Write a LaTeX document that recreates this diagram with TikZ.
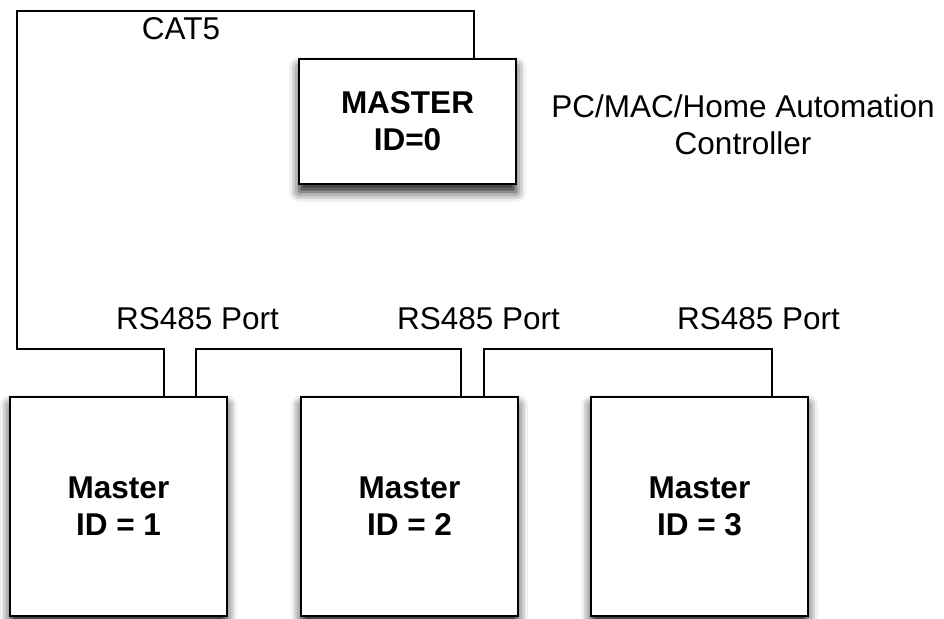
\documentclass[tikz,border=0pt]{standalone}
\usepackage{fontspec}
\setmainfont{Liberation Sans}
\usepackage{tikz}
\usetikzlibrary{shadows.blur}

\tikzset{
  unitbox/.style={draw=black, line width=2.6pt, fill=white, minimum width=217pt,
    align=center, font=\fontsize{31.5}{37}\selectfont\bfseries, inner sep=0pt,
    blur shadow={shadow xshift=0pt, shadow yshift=-8pt, shadow blur radius=10pt, shadow opacity=90}},
  wire/.style={draw=black, line width=1.8pt},
  note/.style={align=center, inner sep=0pt}
}

\begin{document}
\begin{tikzpicture}[x=1pt, y=-1pt, font=\fontsize{31.5}{37}\selectfont]
    \useasboundingbox (0,0) rectangle (944,618);
    % controller box on top
    \node[unitbox, minimum height=125pt] (master) at (407.5,121.5) {MASTER\\ID=0};
    % three slave boxes
    \foreach \i/\x in {1/118.5, 2/409.5, 3/699.5} {
      \node[unitbox, minimum height=219pt] (box\i) at (\x,506.5) {Master\\ID = \i};
    }
    % port points on the box tops
    \coordinate (pm) at ([xshift=66.5pt]master.north);
    \coordinate (p1a) at ([xshift=45.5pt]box1.north);
    \coordinate (p1b) at ([xshift=77.5pt]box1.north);
    \coordinate (p2a) at ([xshift=51.5pt]box2.north);
    \coordinate (p2b) at ([xshift=74.5pt]box2.north);
    \coordinate (p3a) at ([xshift=72.5pt]box3.north);
    \coordinate (corner) at (17,11);
    \coordinate (bus) at (17,349);
    % cabling
    \draw[wire] (pm) |- (corner) -- (bus) -| (p1a);
    \draw[wire] (p1b) -- (p1b |- bus) -| (p2a);
    \draw[wire] (p2b) -- (p2b |- bus) -| (p3a);
    % labels
    \node[note] (cat) at (181,29) {CAT5};
    \node[note] (pc) at (743,124.5) {PC/MAC/Home Automation\\Controller};
    \node[note] (rs1) at (197.5,319) {RS485 Port};
    \node[note] (rs2) at (478.5,319) {RS485 Port};
    \node[note] (rs3) at (758.5,319) {RS485 Port};
\end{tikzpicture}
\end{document}
